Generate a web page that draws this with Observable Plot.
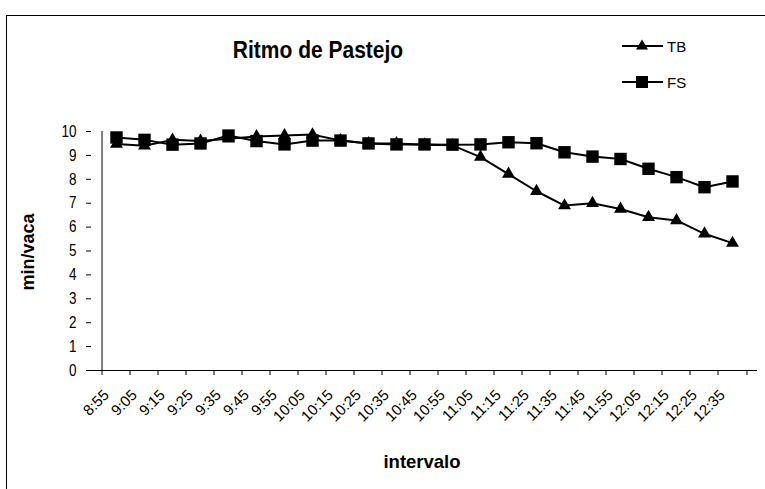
<!DOCTYPE html>
<html><head><meta charset="utf-8">
<script src="https://cdn.jsdelivr.net/npm/d3@7"></script>
<script src="https://cdn.jsdelivr.net/npm/@observablehq/plot@0.6"></script>
<style>
body{margin:0;background:#fff;overflow:hidden;font-family:"Liberation Sans",Arial,sans-serif;color:#000}
#wrap{position:relative;width:765px;height:489px;overflow:hidden}
#border{position:absolute;left:6px;top:15px;width:820px;height:520px;border:1px solid #000;box-sizing:border-box}
#chart{position:absolute;left:0;top:0}
.title{position:absolute;left:318px;top:50px;transform:translate(-50%,-50%) scaleY(1.1);font-weight:bold;font-size:21px;white-space:nowrap}
.ylab{position:absolute;left:28px;top:252px;transform:translate(-50%,-50%) rotate(-90deg);font-weight:bold;font-size:18px;white-space:nowrap}
.xlab{position:absolute;left:422px;top:462px;transform:translate(-50%,-50%);font-weight:bold;font-size:18.5px;white-space:nowrap}
.leg{position:absolute;left:620px;height:20px;display:flex;align-items:center;font-size:15px}
.leg svg{display:block}
.leg span{margin-left:3px}
</style>
</head><body>
<div id="wrap">
  <div id="border"></div>
  <div id="chart"></div>
  <div class="title">Ritmo de Pastejo</div>
  <div class="ylab">min/vaca</div>
  <div class="xlab">intervalo</div>
  <div class="leg" style="top:36px"><svg width="44" height="20"><line x1="2" x2="43" y1="10" y2="10" stroke="#000" stroke-width="2"/><path d="M22,3.5 L28,13.5 L16,13.5 Z" fill="#000"/></svg><span>TB</span></div>
  <div class="leg" style="top:72px"><svg width="44" height="20"><line x1="2" x2="43" y1="10" y2="10" stroke="#000" stroke-width="2"/><rect x="16" y="4" width="12" height="12" fill="#000"/></svg><span>FS</span></div>
</div>
<script>
const categories = ["8:55","9:05","9:15","9:25","9:35","9:45","9:55","10:05","10:15","10:25","10:35","10:45","10:55","11:05","11:15","11:25","11:35","11:45","11:55","12:05","12:15","12:25","12:35"];
const seriesNames = ["TB","FS"];
const TB = [9.48,9.4,9.65,9.6,9.7,9.79,9.83,9.87,9.62,9.5,9.5,9.45,9.42,8.93,8.22,7.5,6.9,7.0,6.76,6.41,6.28,5.72,5.33];
const FS = [9.75,9.65,9.45,9.5,9.83,9.6,9.46,9.62,9.62,9.5,9.46,9.46,9.45,9.46,9.55,9.51,9.13,8.95,8.85,8.44,8.09,7.67,7.91];
const yTicks = [0,1,2,3,4,5,6,7,8,9,10];

const W = 765, H = 489, mL = 91, mR = 8, mT = 131, mB = 119;
const step = (W - mL - mR) / categories.length;
const tb = categories.map((t, i) => ({t, v: TB[i], s: seriesNames[0]}));
const fs = categories.map((t, i) => ({t, v: FS[i], s: seriesNames[1]}));

const chart = Plot.plot({
  width: W, height: H,
  marginLeft: mL, marginRight: mR, marginTop: mT, marginBottom: mB,
  style: {fontFamily: "'Liberation Sans', Arial, sans-serif", fontSize: "14px", color: "#000", background: "transparent", overflow: "visible"},
  x: {type: "point", domain: categories, padding: 0.5, label: null},
  y: {domain: [0, 10], label: null},
  marks: [
    Plot.axisY(yTicks, {tickSize: 5, tickPadding: 10, fontSize: 16.5, label: null}),
    Plot.axisX({tickSize: 0, tickRotate: -45, tickPadding: 22, dx: -10, fontSize: 15, label: null}),
    Plot.axisX(categories, {tickSize: 5, dx: -step / 2, tickFormat: () => "", label: null}),
    Plot.axisX([categories[categories.length - 1]], {tickSize: 5, dx: step / 2, tickFormat: () => "", label: null}),
    Plot.ruleY([0], {stroke: "#000"}),
    Plot.ruleX([categories[0]], {dx: -step / 2, y1: 0, y2: 10, stroke: "#000"}),
    Plot.line(tb, {x: "t", y: "v", stroke: "#000", strokeWidth: 2}),
    Plot.line(fs, {x: "t", y: "v", stroke: "#000", strokeWidth: 2}),
    Plot.dot(tb, {x: "t", y: "v", symbol: "triangle", r: 4.8, fill: "#000", stroke: "none"}),
    Plot.dot(fs, {x: "t", y: "v", symbol: "square", r: 7, fill: "#000", stroke: "none"})
  ]
});
// condense y tick labels horizontally, as in the reference rendering
d3.select(chart).selectAll('g[aria-label="y-axis tick label"] text').attr("transform", function() {
  return this.getAttribute("transform") + " scale(0.82,1)";
});
document.getElementById("chart").appendChild(chart);
</script>
</body></html>
